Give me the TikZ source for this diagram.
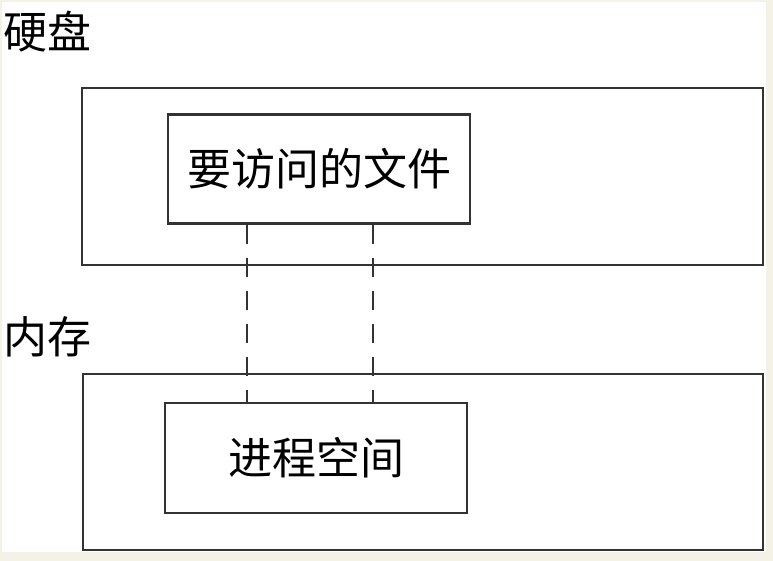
\documentclass[tikz,border=0pt]{standalone}
\usepackage{fontspec}
\newfontfamily\cjk{Noto Sans CJK SC}
\usepackage{tikz}
\usetikzlibrary{calc,positioning}
\definecolor{paper}{HTML}{F4F1E6}
\definecolor{edge}{HTML}{333333}

\begin{document}
\begin{tikzpicture}[x=1pt,y=-1pt]
\tikzstyle{area}=[
    rectangle,
    draw=edge, line width=2.8pt,
    inner sep=0pt]
\tikzstyle{word}=[font=\cjk\fontsize{44}{50}\selectfont, inner sep=0pt]
\tikzstyle{link}=[draw=edge, line width=2.8pt, dash pattern=on 19pt off 14pt]
% background and margins
\fill[paper] (0,0) rectangle (773,561);
\fill[white] (2,2) rectangle (766,552);
% disk
\node[word, anchor=west] (disklabel) at (3,32) {硬盘};
\node[area, minimum width=681pt, minimum height=177pt] (disk) at (422.5,176.5) {};
\node[area, minimum width=302pt, minimum height=109pt, word] (file) at (319,169) {要访问的文件};
% memory
\node[word, anchor=west] (memlabel) at (3,337) {内存};
\node[area, minimum width=680pt, minimum height=176pt] (mem) at (423,462) {};
\node[area, minimum width=302pt, minimum height=110pt, word] (proc) at (316,458) {进程空间};
% mapping
\draw[link] ([xshift=-72pt]file.south) -- ([xshift=-72pt]file.south |- proc.north);
\draw[link] ([xshift=54pt]file.south) -- ([xshift=54pt]file.south |- proc.north);
\end{tikzpicture}
\end{document}
